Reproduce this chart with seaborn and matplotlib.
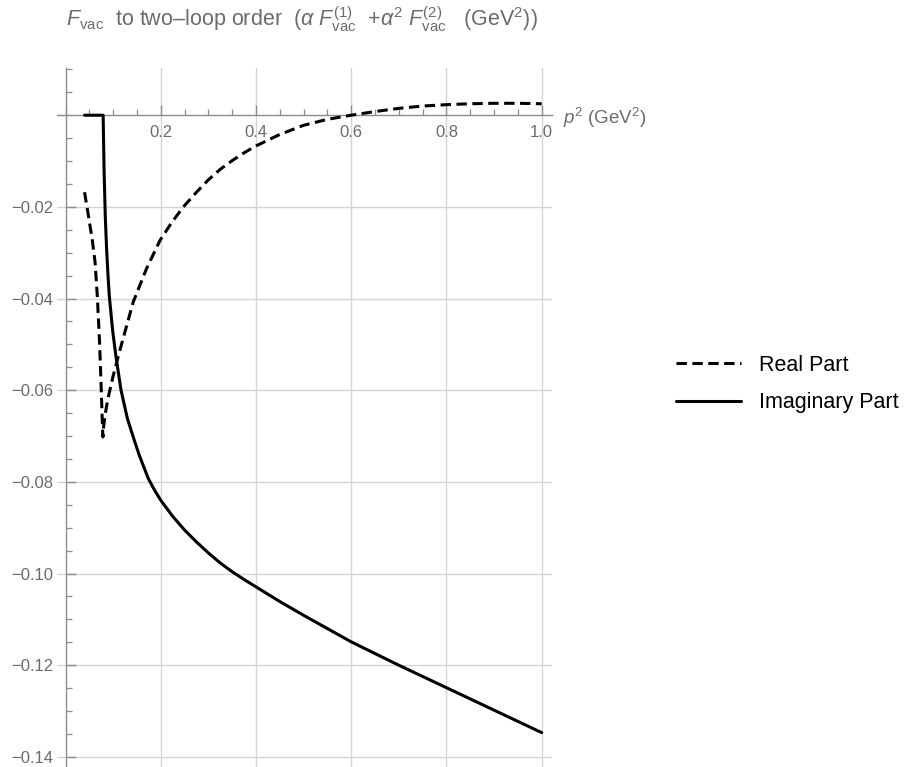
import numpy as np
import pandas as pd
import matplotlib
matplotlib.use("Agg")
import matplotlib.pyplot as plt
from matplotlib.ticker import MultipleLocator
import seaborn as sns

# Real part of F_vac vs p^2 (GeV^2)
real_p2 = [0.040, 0.047, 0.0563, 0.062, 0.0668, 0.0715, 0.0746, 0.0770, 0.0785,
           0.0800, 0.0830, 0.0870, 0.0920, 0.1000, 0.1110, 0.1250, 0.1424, 0.1700,
           0.1985, 0.2230, 0.2475, 0.275, 0.300, 0.325, 0.350, 0.375, 0.400, 0.450,
           0.500, 0.550, 0.600, 0.650, 0.700, 0.750, 0.800, 0.850, 0.900, 0.950, 1.000]
real_val = [-0.0168, -0.0212, -0.0273, -0.0320, -0.0395, -0.0495, -0.0585, -0.0660, -0.0702,
            -0.0680, -0.0655, -0.0630, -0.0605, -0.0569, -0.0525, -0.0472, -0.0407, -0.0335,
            -0.0273, -0.0234, -0.0200, -0.0168, -0.0141, -0.0118, -0.0099, -0.0082, -0.0067, -0.0042,
            -0.0022, -0.0009, 0.0000, 0.0008, 0.0015, 0.0020, 0.0023, 0.0025, 0.0026, 0.0026, 0.0025]

# Imaginary part of F_vac vs p^2 (GeV^2)
imag_p2 = [0.040, 0.0790, 0.0810, 0.0835, 0.0862, 0.0890, 0.0920, 0.0990, 0.1060,
           0.1166, 0.1300, 0.1450, 0.1550, 0.1650, 0.1740, 0.1870, 0.2000, 0.2250,
           0.2500, 0.2750, 0.3000, 0.3250, 0.3500, 0.3750, 0.4000, 0.4500, 0.5000,
           0.5500, 0.6000, 0.7000, 0.8000, 0.9000, 1.0000]
imag_val = [0.0, 0.0, -0.0120, -0.0220, -0.0290, -0.0345, -0.0395, -0.0470, -0.0527,
            -0.0600, -0.0662, -0.0711, -0.0742, -0.0769, -0.0793, -0.0818, -0.0840, -0.0875,
            -0.0905, -0.0931, -0.0955, -0.0977, -0.0996, -0.1013, -0.1029, -0.1061, -0.1091,
            -0.1120, -0.1149, -0.1200, -0.1249, -0.1298, -0.1347]

series_names = ["Real Part", "Imaginary Part"]

x_ticks = [0.2, 0.4, 0.6, 0.8, 1.0]
x_ticklabels = ["0.2", "0.4", "0.6", "0.8", "1.0"]
y_ticks = [-0.14, -0.12, -0.10, -0.08, -0.06, -0.04, -0.02]
y_ticklabels = ["\u22120.14", "\u22120.12", "\u22120.10", "\u22120.08",
                "\u22120.06", "\u22120.04", "\u22120.02"]

df = pd.concat([
    pd.DataFrame({"p2": real_p2, "F": real_val, "part": series_names[0]}),
    pd.DataFrame({"p2": imag_p2, "F": imag_val, "part": series_names[1]}),
], ignore_index=True)

sns.set_style("white")
plt.rcParams["font.family"] = ["Liberation Sans", "DejaVu Sans"]
plt.rcParams["mathtext.fontset"] = "custom"
plt.rcParams["mathtext.rm"] = "Liberation Sans"
plt.rcParams["mathtext.it"] = "Liberation Sans:italic"
plt.rcParams["mathtext.bf"] = "Liberation Sans:bold"

TXT = "#6b6b6b"
AX = "#8c8c8c"
GRID = "#d4d4d4"

fig = plt.figure(figsize=(9.17, 7.67), dpi=100)
ax = fig.add_axes([56.7 / 917, 0.0, 495 / 917, 1 - 68 / 767])

sns.lineplot(data=df, x="p2", y="F", style="part", style_order=series_names,
             dashes={"Real Part": (3.4, 1.8), "Imaginary Part": ""},
             color="black", linewidth=2.2, sort=False, estimator=None, ax=ax, zorder=3)

ax.set_xlim(-0.0185, 1.021)
ax.set_ylim(-0.1422, 0.0103)

for s in ["top", "right"]:
    ax.spines[s].set_visible(False)
ax.spines["left"].set_position(("data", 0))
ax.spines["bottom"].set_position(("data", 0))
for s in ["left", "bottom"]:
    ax.spines[s].set_color(AX)
    ax.spines[s].set_linewidth(1.0)
    ax.spines[s].set_zorder(2)

ax.set_xticks(x_ticks)
ax.set_xticklabels(x_ticklabels)
ax.set_yticks(y_ticks)
ax.set_yticklabels(y_ticklabels)
ax.xaxis.set_minor_locator(MultipleLocator(0.05))
ax.yaxis.set_minor_locator(MultipleLocator(0.005))

ax.tick_params(axis="both", which="both", bottom=True, left=True, top=False, right=False)
ax.tick_params(axis="both", which="major", direction="in", length=7, width=1,
               color=AX, labelcolor=TXT, labelsize=12)
ax.tick_params(axis="both", which="minor", direction="in", length=4.5, width=0.9, color=AX)
ax.tick_params(axis="x", which="major", pad=7)
ax.tick_params(axis="y", which="major", pad=9)

ax.grid(True, which="major", color=GRID, linewidth=1.0, zorder=0)
ax.grid(False, which="minor")
ax.set_axisbelow(True)
ax.set_xlabel("")
ax.set_ylabel("")

sns.move_legend(ax, "upper left", bbox_to_anchor=(676 / 917, 1 - 355 / 767),
                bbox_transform=fig.transFigure, title=None, frameon=False,
                fontsize=15.5, handlelength=3.0, handletextpad=0.85,
                labelspacing=0.75, borderpad=0, borderaxespad=0)
for t in ax.get_legend().get_texts():
    t.set_color("black")

fig.text(563 / 917, 1 - 118 / 767, r"$p^2$ (GeV$^2$)", color=TXT, fontsize=13.5,
         ha="left", va="center")

title = (r"$F_{\mathrm{vac}}$  to two" + "\u2013" +
         r"loop order  ($\alpha\ F^{(1)}_{\mathrm{vac}}$  +$\alpha^2\ F^{(2)}_{\mathrm{vac}}$   (GeV$^2$))")
fig.text(66 / 917, 1 - 26 / 767, title, color=TXT, fontsize=15.5, ha="left", va="baseline")

fig.savefig("out.png", dpi=100, facecolor="white")
